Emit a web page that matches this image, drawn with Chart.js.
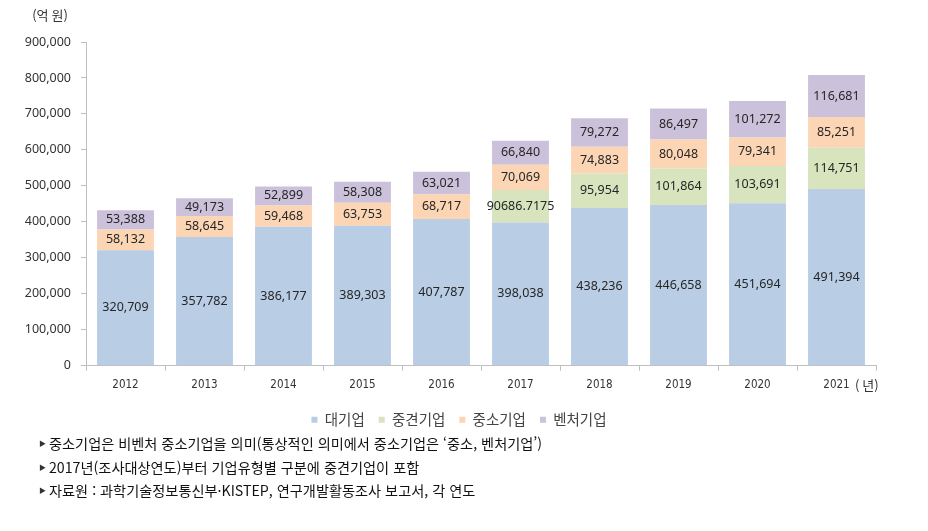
<!DOCTYPE html>
<html lang="ko">
<head>
<meta charset="utf-8">
<script src="https://cdn.jsdelivr.net/npm/chart.js@4/dist/chart.umd.min.js"></script>
<style>
  html, body { margin: 0; padding: 0; background: #fff; }
  #wrap { position: relative; width: 928px; height: 531px; }
  #notes { position: absolute; left: 39px; top: 432px; font-family: "Noto Sans CJK KR", sans-serif;
           font-size: 14.2px; color: #111; line-height: 23.5px; }
  #notes .b { font-size: 7px; margin-right: 3px; vertical-align: 3px; color: #333; }
</style>
</head>
<body>
<div id="wrap">
  <canvas id="chart" width="928" height="531"></canvas>
  <div id="notes">
    <div><span class="b">▶</span>중소기업은 비벤처 중소기업을 의미(통상적인 의미에서 중소기업은 ‘중소, 벤처기업’)</div>
    <div><span class="b">▶</span>2017년(조사대상연도)부터 기업유형별 구분에 중견기업이 포함</div>
    <div><span class="b">▶</span>자료원 : 과학기술정보통신부·KISTEP, 연구개발활동조사 보고서, 각 연도</div>
  </div>
</div>
<script>
"use strict";

const years = ["2012", "2013", "2014", "2015", "2016", "2017", "2018", "2019", "2020", "2021"];
const large = [320709, 357782, 386177, 389303, 407787, 398038, 438236, 446658, 451694, 491394];
const midsize = [null, null, null, null, null, 90686.7175, 95954, 101864, 103691, 114751];
const small = [58132, 58645, 59468, 63753, 68717, 70069, 74883, 80048, 79341, 85251];
const venture = [53388, 49173, 52899, 58308, 63021, 66840, 79272, 86497, 101272, 116681];

const fmtVal = (v) => (Number.isInteger(v) ? v.toLocaleString("en-US") : String(v));

// value labels in the middle of each bar segment
const barLabels = {
  id: "barLabels",
  afterDatasetsDraw(chart) {
    const { ctx } = chart;
    ctx.save();
    ctx.font = '12.5px "Noto Sans", sans-serif';
    ctx.fillStyle = "#262626";
    ctx.textAlign = "center";
    ctx.textBaseline = "middle";
    chart.data.datasets.forEach((ds, i) => {
      const meta = chart.getDatasetMeta(i);
      meta.data.forEach((el, j) => {
        const v = ds.data[j];
        if (v === null || v === undefined) return;
        ctx.fillText(fmtVal(v), el.x, (el.y + el.base) / 2);
      });
    });
    ctx.restore();
  },
};

// unit texts: (억 원) above y axis, (년) after last x label
const unitText = {
  id: "unitText",
  afterDraw(chart) {
    const { ctx, chartArea } = chart;
    ctx.save();
    ctx.fillStyle = "#333";
    ctx.textBaseline = "middle";
    ctx.textAlign = "center";
    ctx.font = '13px "Noto Sans CJK KR", sans-serif';
    ctx.fillText("(억 원)", 50, 15);
    ctx.textAlign = "left";
    ctx.fillText("( 년)", chartArea.right - 21, chartArea.bottom + 19);
    ctx.restore();
  },
};

// legend sits a little right of the canvas centre in the original
const shiftLegend = {
  id: "shiftLegend",
  afterLayout(chart) { chart.legend.left += 22; },
};

const axisColor = "#bfbfbf";

new Chart(document.getElementById("chart"), {
  type: "bar",
  data: {
    labels: years,
    datasets: [
      { label: "대기업", data: large, backgroundColor: "#b9cde5" },
      { label: "중견기업", data: midsize, backgroundColor: "#d7e4bd" },
      { label: "중소기업", data: small, backgroundColor: "#fcd5b5" },
      { label: "벤처기업", data: venture, backgroundColor: "#ccc1da" },
    ],
  },
  options: {
    responsive: false,
    animation: false,
    events: [],
    datasets: { bar: { barPercentage: 0.72, categoryPercentage: 1 } },
    layout: { padding: { left: 20, right: 52, top: 42, bottom: 94 } },
    plugins: {
      legend: {
        position: "bottom",
        labels: {
          boxWidth: 6, boxHeight: 6, padding: 14, color: "#444",
          font: { family: '"Noto Sans CJK KR", sans-serif', size: 14.5 },
        },
      },
      tooltip: { enabled: false },
    },
    scales: {
      x: {
        stacked: true,
        grid: { offset: true, drawOnChartArea: false, tickLength: 5, color: axisColor },
        border: { color: axisColor },
        ticks: { color: "#333", padding: 7, font: { family: '"Liberation Sans Narrow", "DejaVu Sans Condensed", sans-serif', size: 11.5 } },
      },
      y: {
        stacked: true,
        min: 0, max: 900000,
        afterFit: (s) => { s.width = 66; },
        grid: { drawOnChartArea: false, tickLength: 5, color: axisColor },
        border: { color: axisColor },
        ticks: {
          stepSize: 100000, padding: 10, color: "#333",
          font: { family: '"Noto Sans", sans-serif', size: 12.5 },
          callback: (v) => v.toLocaleString("en-US"),
        },
      },
    },
  },
  plugins: [barLabels, unitText, shiftLegend],
});
</script>
</body>
</html>
